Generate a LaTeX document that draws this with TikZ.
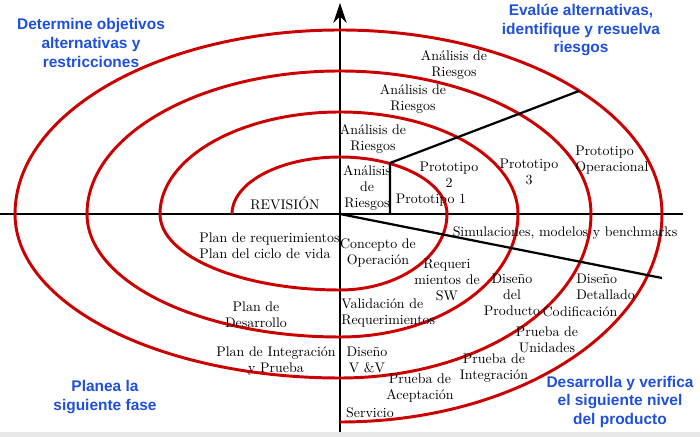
\documentclass[tikz,border=0pt]{standalone}
\usepackage{fontspec}
\newfontfamily\headfont{Liberation Sans}
\usetikzlibrary{arrows.meta}
\definecolor{spiralred}{HTML}{CC0000}
\definecolor{phaseblue}{HTML}{1E50DC}
\definecolor{ink}{HTML}{000000}
\definecolor{strip}{HTML}{E8E8E8}

\begin{document}
\begin{tikzpicture}[
  font=\fontsize{9.9pt}{11.4pt}\selectfont,
  >={Stealth[length=5mm,width=3.3mm]},
  axis/.style={draw=ink,line width=1.4pt},
  wall/.style={draw=ink,line width=1.6pt},
  spiral/.style={draw=spiralred,line width=2.1pt,line join=round},
  lbl/.style={inner sep=0pt,align=center},
  phase/.style={inner sep=0pt,align=center,text=phaseblue,font=\headfont\bfseries\fontsize{11pt}{13.2pt}\selectfont}
]
\useasboundingbox (-8.5,-5.575) rectangle (9.0,5.35);
\fill[strip] (-8.5,-5.575) rectangle (9.0,-5.44);
% --- axes ------------------------------------------------------------------
\coordinate (o) at (0,0);
\coordinate (ybot) at (0,-5.44);
\coordinate (ytop) at (0,5.28);
\coordinate (xl) at (-8.5,0);
\coordinate (xr) at (8.575,0);
\draw[axis] (xl) -- (xr);
\draw[axis,->] (ybot) -- (ytop);
% --- spiral, one quarter ellipse per quadrant ------------------------------
\draw[spiral] (-2.7,0)
  arc[start angle=180,end angle=90,x radius=2.7,y radius=1.425]
  arc[start angle=90,end angle=0,x radius=2.675,y radius=1.425]
  arc[start angle=0,end angle=-90,x radius=2.675,y radius=1.9]
  arc[start angle=270,end angle=180,x radius=4.5,y radius=1.9]
  arc[start angle=180,end angle=90,x radius=4.5,y radius=2.55]
  arc[start angle=90,end angle=0,x radius=4.45,y radius=2.55]
  arc[start angle=0,end angle=-90,x radius=4.45,y radius=3.075]
  arc[start angle=270,end angle=180,x radius=6.325,y radius=3.075]
  arc[start angle=180,end angle=90,x radius=6.325,y radius=3.575]
  arc[start angle=90,end angle=0,x radius=6.275,y radius=3.575]
  arc[start angle=0,end angle=-90,x radius=6.275,y radius=4.1]
  arc[start angle=270,end angle=180,x radius=8.125,y radius=4.1]
  arc[start angle=180,end angle=90,x radius=8.125,y radius=4.6]
  arc[start angle=90,end angle=0,x radius=8.05,y radius=4.6]
  arc[start angle=0,end angle=-90,x radius=8.05,y radius=5.2];
% --- prototype wall and simulation line ------------------------------------
\coordinate (wallfoot) at (1.25,0);
\coordinate (wallknee) at (1.25,1.275);
\coordinate (wallend) at (42:8.05 and 4.6);
\coordinate (simend) at (8.05,-1.6);
\draw[wall] (wallfoot) -- (wallknee) -- (wallend);
\draw[wall] (o) -- (simend);
% --- quadrant headings -----------------------------------------------------
\node[phase] (objetivos) at (-6.225,4.275) {Determine objetivos\\alternativas y\\restricciones};
\node[phase] (evalue) at (6.025,4.6) {Evalúe alternativas,\\identifique y resuelva\\riesgos};
\node[phase] (planea) at (-5.875,-4.575) {Planea la\\siguiente fase};
\node[phase] (desarrolla) at (7.0,-4.7) {Desarrolla y verifica\\el siguiente nivel\\del producto};
% --- risk analysis and prototypes ------------------------------------------
\node[lbl] (ar4) at (2.85,3.725) {Análisis de\\Riesgos};
\node[lbl] (ar3) at (1.825,2.875) {Análisis de\\Riesgos};
\node[lbl] (ar2) at (0.825,1.875) {Análisis de\\Riesgos};
\node[lbl] (ar1) at (0.675,0.65) {Análisis\\de\\Riesgos};
\node[lbl] (revision) at (-1.375,0.275) {REVISIÓN};
\node[lbl] (proto1) at (2.275,0.35) {Prototipo 1};
\node[lbl] (proto2) at (2.725,0.975) {Prototipo\\2};
\node[lbl] (proto3) at (4.725,1.05) {Prototipo\\3};
\node[lbl,anchor=west,align=left] (protoop) at (5.875,1.35) {Prototipo\\Operacional};
\node[lbl] (simul) at (5.625,-0.475) {Simulaciones, modelos y benchmarks};
% --- development steps -----------------------------------------------------
\node[lbl] (concepto) at (0.95,-0.975) {Concepto de\\Operación};
\node[lbl] (reqsw) at (2.675,-1.65) {Requeri\\mientos de\\SW};
\node[lbl] (disprod) at (4.3,-2.025) {Diseño\\del\\Producto};
\node[lbl,anchor=west,align=left] (disdet) at (5.9,-1.825) {Diseño\\Detallado};
\node[lbl] (codif) at (6.0,-2.45) {Codificación};
\node[lbl] (prunid) at (5.175,-3.15) {Prueba de\\Unidades};
\node[lbl] (pruint) at (3.85,-3.85) {Prueba de\\Integración};
\node[lbl] (prueacep) at (2.0,-4.35) {Prueba de\\Aceptación};
\node[lbl] (servicio) at (0.75,-4.975) {Servicio};
\node[lbl] (disvv) at (0.675,-3.65) {Diseño\\V \&V};
\node[lbl,anchor=west,align=left] (valreq) at (0.025,-2.475) {Validación de\\Requerimientos};
% --- plans -----------------------------------------------------------------
\node[lbl,anchor=west,align=left] (planreq) at (-3.525,-0.8) {Plan de requerimientos\\Plan del ciclo de vida};
\node[lbl] (plandes) at (-2.1,-2.525) {Plan de\\Desarrollo};
\node[lbl] (planint) at (-1.6,-3.675) {Plan de Integración\\y Prueba};
\end{tikzpicture}
\end{document}
